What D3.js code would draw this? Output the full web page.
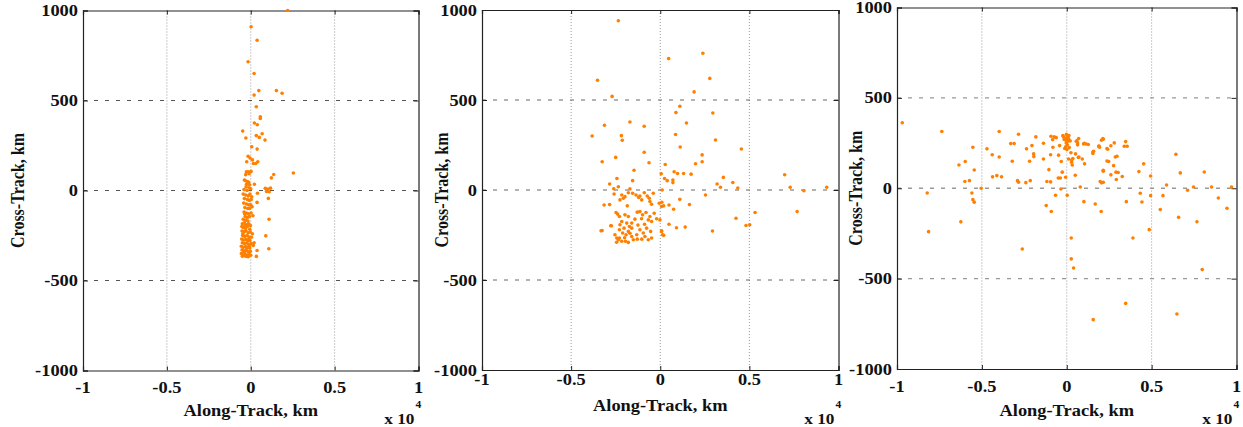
<!DOCTYPE html>
<html><head><meta charset="utf-8">
<script src="https://cdn.jsdelivr.net/npm/d3@7"></script>
<style>html,body{margin:0;padding:0;background:#fff;}svg{display:block;}</style>
</head><body>
<svg id="chart" width="1243" height="427"></svg>
<script>
// ---- data (km) ----
const xTicks = [-10000, -5000, 0, 5000, 10000];
const xTickLabels = ["-1", "-0.5", "0", "0.5", "1"];
const yTicks = [-1000, -500, 0, 500, 1000];
const yTickLabels = ["-1000", "-500", "0", "500", "1000"];
const xTitle = "Along-Track, km";
const yTitle = "Cross-Track, km";
const xExponent = "4";

const panel1Points = [
[2200,1000],[20,910],[380,835],[-160,715],[200,650],[480,555],[1530,555],[1870,540],[200,530],[330,465],
[570,410],[570,400],[215,375],[390,365],[-480,330],[330,305],[680,315],[510,295],[-290,292],[850,280],
[60,243],[380,230],[-160,190],[-40,180],[100,170],[-240,160],[160,150],[300,150],[420,160],[-260,104],
[-140,104],[20,106],[-300,88],[-100,93],[1370,89],[2540,97],[1230,70],[-330,55],[-130,45],[-250,35],
[-70,32],[215,35],[-200,50],[-380,58],[-280,20],[-100,15],[0,10],[-400,5],[-220,0],[865,12],[1025,8],
[1180,13],[1100,-7],[940,-5],[400,-15],
[-450,-20],[-300,-25],[-150,-30],[-50,-20],[60,-35],[-380,-45],[-200,-50],[-80,-55],[30,-50],[-420,-70],
[-250,-75],[-120,-80],[0,-80],[-350,-95],[-180,-100],[-60,-100],[80,-90],[-400,-120],[-260,-125],[-140,-130],
[20,-125],[-330,-145],[-200,-150],[-80,-145],[130,-140],[-450,-160],[-300,-165],[-170,-170],
[1050,-44],[376,-66],[1090,-160],[895,-252],[1075,-324],[376,-333],[334,-366],
[-500,-185],[-380,-180],[-250,-190],[-120,-185],[-20,-195],[-450,-205],[-320,-210],[-200,-200],[-60,-215],
[-520,-225],[-400,-230],[-280,-225],[-150,-235],[-30,-230],[100,-240],[-480,-250],[-350,-255],[-220,-250],
[-90,-258],[40,-260],[-540,-270],[-420,-275],[-300,-272],[-170,-280],[-50,-278],[-500,-290],[-380,-295],
[-250,-292],[-120,-300],[20,-295],[200,-290],[-560,-310],[-440,-315],[-310,-312],[-190,-318],[-60,-320],
[150,-305],[-520,-330],[-400,-335],[-270,-333],[-140,-340],[-20,-338],[-560,-350],[-460,-355],[-340,-352],
[-220,-358],[-100,-355],[0,-360],[-500,-365],[-380,-362],[-260,-366],[-150,-368],[-470,-240],[-330,-195],
[-90,-310],[-530,-200],[-240,-320],[-410,-345],[-130,-270],[-360,-130]
];

const panel2Points = [
[-2350,940],[2390,760],[470,730],[-3520,610],[2780,620],[-2700,520],[1900,545],[1100,465],[880,430],[2950,428],
[-1700,378],[1470,372],[-3130,360],[-900,354],[-3820,300],[-2180,302],[-2130,276],[860,308],[3100,278],[1120,239],
[4550,228],[-900,210],[-2500,181],[2350,195],[-3260,157],[-630,151],[2350,157],[1980,146],[280,142],[-1470,110],
[56,90],[780,101],[970,92],[1310,92],[1730,88],[6980,85],[-2430,64],[240,64],[390,52],[710,55],[710,41],
[-1550,52],[3540,70],[4070,42],[3190,33],[3380,15],[4350,11],[-2840,33],[-2350,18],[-2610,7],[-2590,-22],
[-1700,6],[110,0],[7290,15],[8060,-4],[9340,15],[2540,-28],[7680,-120],[5320,-125],[4250,-157],[4810,-197],
[5020,-193],[1640,-81],[1100,-52],[490,-83],[750,-107],[90,-68],[190,-88],[490,-190],[910,-210],[1400,-206],
[2930,-228],[190,-252],[75,-227],[-3260,-225],[-2740,-199],[-3150,-83],[-2840,-81],
[-2160,-28],[-2070,-46],[-1980,-37],[-2260,-55],[-1790,-15],[-1550,-18],[-1360,-28],[-1210,-41],[-1140,-33],
[-730,-33],[-615,-46],[-580,-64],[-485,-79],[-895,-15],[-1040,-55],[-390,-18],[-1850,-88],[-2480,-125],
[-2390,-134],[-2290,-147],[-1980,-138],[-1790,-147],[-1290,-123],[-1140,-120],[-990,-138],[-800,-125],
[-580,-147],[-340,-129],[-670,-166],[-485,-175],[-205,-160],[-1420,-162],[-1600,-184],[-1730,-203],
[-2160,-175],[-2260,-193],[-2030,-212],[-2290,-221],[-2110,-239],[-1880,-184],[-1790,-230],[-1920,-249],
[-2540,-249],[-2440,-267],[-2350,-276],[-1600,-258],[-1510,-276],[-1290,-273],[-1140,-221],[-950,-239],
[-765,-212],[-540,-230],[-485,-267],[-1040,-273],[-2780,-199],[-3320,-227],[-2160,-285],[-1790,-291],
[-2290,-267],[-1320,-249],[-860,-258],[-670,-276],[-56,-74],[75,-92],[-19,-166],[75,-230],[130,-249],
[-2000,-265],[-1700,-240],[-1250,-195],[-1950,-285],[-2450,-290],[-1600,-212],[-880,-190],[-1050,-160]
];

const panel3Points = [
[-9690,362],[-7360,314],[-3980,314],[-2840,299],[-5530,227],[-4700,218],[-4390,185],[-3980,173],[-6350,129],
[-5980,148],[-5450,101],[-6000,37],[-5730,42],[-4370,63],[-4120,70],[-3840,63],[-5040,0],[-8220,-26],
[-5590,-26],[-5530,-63],[-5450,-77],[-6240,-186],[-8140,-240],[-2620,-336],[-3300,247],[-3100,247],
[-3210,149],[-2900,42],[-2840,33],[-2370,218],[-2050,236],[-2190,149],[-2150,42],[-2410,31],[-1950,190],
[-1940,175],[-1820,284],[-1370,249],[-1370,162],[-1210,-96],[-1170,37],[-1050,103],[-950,185],[-950,35],
[-910,-129],[-930,288],[-830,269],[-740,284],[-620,280],[-815,227],[-660,-39],[-480,183],[-420,236],
[-500,57],[-380,57],[-265,89],[-344,-4],[-324,148],[-187,284],[-88,269],[-29,251],[49,273],[128,292],
[-69,61],[29,-39],[10,214],[108,162],[246,196],[285,144],[324,129],[501,72],[599,262],[638,240],[717,173],
[796,7],[913,162],[1030,249],[1050,135],[1010,-74],[1270,242],[1540,192],[1680,-87],[1900,232],[1930,227],
[1970,37],[2050,30],[2150,33],[2030,-129],[2150,100],[2150,94],[2150,271],[2370,151],[2470,148],[2410,216],
[2600,74],[2760,125],[2800,251],[2860,173],[2960,177],[2900,89],[3030,87],[2920,48],[3270,65],[3390,232],
[3470,258],[3560,232],[3510,-74],[3470,-637],[3900,-275],[4250,92],[4330,-28],[4430,-76],[4530,135],
[4860,-229],[4940,68],[4940,-41],[5510,-118],[5670,-41],[5880,18],[6430,188],[6590,-161],[6690,85],
[6490,-696],[7120,-11],[7470,7],[7670,-185],[7980,-450],[8100,90],[8530,7],[8930,-54],[9440,-111],
[9710,7],[265,-275],[265,-391],[403,-441],[1560,-727],
[0,280],[-150,270],[100,275],[200,262],[30,240],[-60,230],[150,225],[60,260],[560,260],[640,250],
[700,275],[990,245],[1150,245],[1580,205],[1540,200],[1890,233],[2050,266],[2130,275],[2370,220],
[2600,235],[520,190],[290,156],[360,164],[680,170],[-230,291],[-120,220],[-20,298]
];

const panels = [
  {pts: panel1Points, left: 83, right: 418.5, top: 10.5, bottom: 370.5, tickY: 393, titleY: 416, gridH: "#555", gridHW: 1, yTitleX: 19},
  {pts: panel2Points, left: 482, right: 838.5, top: 10, bottom: 370, tickY: 385, titleY: 411, gridH: "#666", gridHW: 1, yTitleX: 443},
  {pts: panel3Points, left: 897, right: 1236.5, top: 7.5, bottom: 369, tickY: 392, titleY: 416, gridH: "#999", gridHW: 1.4, yTitleX: 857}
];

const svg = d3.select("#chart");
const FONT = "Liberation Serif, Times New Roman, serif";
const SX = 1.15; // horizontal stretch of the original text

function stretchedText(g, x, y, txt, anchor, size, rotate) {
  return g.append("g").attr("transform", `translate(${x},${y}) scale(${SX},1)` + (rotate ? ` rotate(${rotate})` : ""))
    .append("text")
    .attr("text-anchor", anchor)
    .style("font-family", FONT).style("font-weight", "bold").style("font-size", size + "px")
    .attr("fill", "#111")
    .text(txt);
}

panels.forEach(p => {
  const g = svg.append("g");
  const x = d3.scaleLinear().domain([-10000, 10000]).range([p.left, p.right]);
  const y = d3.scaleLinear().domain([-1000, 1000]).range([p.bottom, p.top]);

  // vertical dotted grid
  g.append("g").selectAll("line").data(xTicks.slice(1, -1)).join("line")
    .attr("x1", d => x(d)).attr("x2", d => x(d)).attr("y1", p.top).attr("y2", p.bottom)
    .attr("stroke", "#999").attr("stroke-width", 1).attr("stroke-dasharray", "1,2");
  // horizontal dashed grid
  g.append("g").selectAll("line").data(yTicks.slice(1, -1)).join("line")
    .attr("x1", p.left).attr("x2", p.right).attr("y1", d => y(d)).attr("y2", d => y(d))
    .attr("stroke", p.gridH).attr("stroke-width", p.gridHW).attr("stroke-dasharray", "4,7");

  // axes (ticks inside)
  const axB = d3.axisBottom(x).tickValues(xTicks).tickSize(-4).tickFormat("");
  const axT = d3.axisTop(x).tickValues(xTicks).tickSize(-4).tickFormat("");
  const axL = d3.axisLeft(y).tickValues(yTicks).tickSize(-5).tickFormat("");
  const axR = d3.axisRight(y).tickValues(yTicks).tickSize(-5).tickFormat("");
  [[axB, `translate(0,${p.bottom})`], [axT, `translate(0,${p.top})`], [axL, `translate(${p.left},0)`], [axR, `translate(${p.right},0)`]]
    .forEach(([ax, tr]) => {
      const a = g.append("g").attr("transform", tr).call(ax);
      a.select(".domain").attr("stroke", "#222").attr("stroke-width", 1.2);
      a.selectAll(".tick line").attr("stroke", "#222");
    });

  // points
  g.append("g").selectAll("circle").data(p.pts).join("circle")
    .attr("cx", d => x(d[0])).attr("cy", d => y(d[1])).attr("r", 1.8)
    .attr("fill", "#ff8000");

  // tick labels
  xTicks.forEach((v, i) => stretchedText(g, x(v), p.tickY, xTickLabels[i], "middle", 16));
  yTicks.forEach((v, i) => stretchedText(g, p.left - 5, y(v) + 5.5, yTickLabels[i], "end", 16));

  // titles
  stretchedText(g, (p.left + p.right) / 2, p.titleY, xTitle, "middle", 16);
  stretchedText(g, p.yTitleX + 5, (p.top + p.bottom) / 2, yTitle, "middle", 16, -90);

  // exponent
  stretchedText(g, p.right - 4, 424, "x 10", "end", 15);
  stretchedText(g, p.right - 3, 408, xExponent, "start", 10);
});
</script>
</body></html>
